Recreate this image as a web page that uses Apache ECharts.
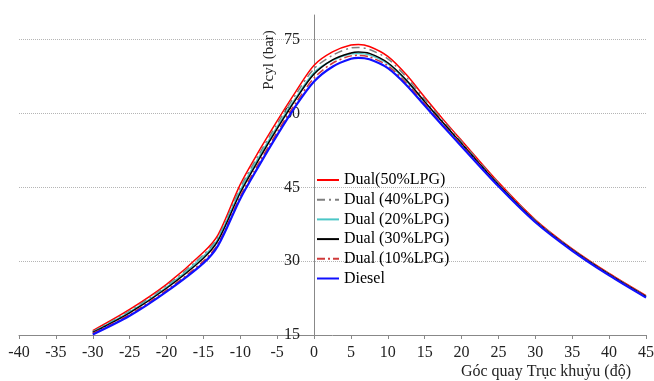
<!DOCTYPE html>
<html>
<head>
<meta charset="utf-8">
<script src="https://cdn.jsdelivr.net/npm/echarts@6/dist/echarts.min.js"></script>
<style>
  html, body { margin: 0; padding: 0; background: #fff; }
  #chart { width: 654px; height: 381px; }
</style>
</head>
<body>
<div id="chart"></div>
<script>
// crank angle (deg)
const angles = [-30, -25, -20, -15, -13, -10, -7.5, -5, -2.5, 0, 2.5, 5, 6, 7.5, 10, 12.5, 15, 17.5, 20, 25, 30, 35, 40, 45];

// cylinder pressure (bar)
const dual50 = [15.9, 20.2, 25.3, 31.8, 35.4, 45.6, 52.3, 58.5, 64.4, 69.8, 72.5, 73.9, 74.0, 73.6, 71.6, 67.9, 63.3, 58.8, 54.5, 46.0, 38.4, 32.5, 27.5, 23.0];
const dual40 = [15.7, 19.9, 25.0, 31.3, 34.9, 44.9, 51.6, 57.9, 63.8, 69.1, 71.8, 73.3, 73.4, 73.0, 71.1, 67.4, 62.9, 58.5, 54.3, 45.8, 38.3, 32.4, 27.4, 22.9];
const dual20 = [15.6, 19.7, 24.7, 31.0, 34.6, 44.4, 51.1, 57.3, 63.1, 68.3, 70.8, 72.1, 72.2, 71.9, 70.1, 66.6, 62.3, 58.0, 53.8, 45.5, 38.1, 32.3, 27.3, 22.8];
const dual30 = [15.5, 19.5, 24.5, 30.6, 34.2, 43.9, 50.6, 56.9, 62.8, 68.0, 70.9, 72.3, 72.5, 72.2, 70.3, 66.8, 62.4, 58.1, 53.9, 45.5, 38.1, 32.3, 27.3, 22.8];
const dual10 = [15.3, 19.2, 24.1, 30.0, 33.6, 43.2, 49.9, 56.2, 62.1, 67.2, 70.2, 71.7, 71.8, 71.5, 69.7, 66.2, 62.0, 57.7, 53.6, 45.3, 38.0, 32.2, 27.2, 22.7];
const diesel = [15.1, 18.9, 23.8, 29.6, 33.2, 42.7, 49.3, 55.6, 61.5, 66.5, 69.5, 71.1, 71.3, 71.0, 69.2, 65.8, 61.6, 57.4, 53.3, 45.2, 37.9, 32.1, 27.1, 22.6];

const seriesNames = ["Dual(50%LPG)", "Dual (40%LPG)", "Dual (20%LPG)", "Dual (30%LPG)", "Dual (10%LPG)", "Diesel"];

const chart = echarts.init(document.getElementById("chart"));
const serif = '"Liberation Serif", "Times New Roman", serif';

const pairs = (vals) => angles.map((a, i) => [a, vals[i]]);

const makeLine = (name, vals, color, width, type) => ({
  name: name,
  type: "line",
  data: pairs(vals),
  smooth: 0.3,
  symbol: "none",
  lineStyle: { color: color, width: width, type: type || "solid" },
  itemStyle: { color: color },
});

chart.setOption({
  animation: false,
  grid: { left: 19, right: 8, top: 15, bottom: 46, containLabel: false, outerBoundsMode: "none" },
  legend: {
    orient: "vertical",
    left: 311,
    top: 167,
    itemWidth: 22,
    itemHeight: 14,
    itemGap: 3.7,
    itemStyle: { opacity: 0 },
    textStyle: { fontFamily: serif, fontSize: 16, color: "#000" },
    data: seriesNames,
  },
  title: {
    text: "Góc quay Trục khuỷu (độ)",
    right: 23,
    top: 364,
    padding: 0,
    textStyle: { fontFamily: serif, fontSize: 16, fontWeight: "normal", color: "#222" },
  },
  graphic: [
    {
      type: "text",
      x: 269,
      y: 60,
      rotation: Math.PI / 2,
      style: {
        text: "Pcyl (bar)",
        font: "15px " + serif,
        fill: "#222",
        textAlign: "center",
        textVerticalAlign: "middle",
      },
    },
  ],
  xAxis: {
    type: "value",
    min: -40,
    max: 45,
    interval: 5,
    axisLine: { onZero: false, lineStyle: { color: "#888" } },
    axisTick: { show: true, length: 4, lineStyle: { color: "#888" } },
    axisLabel: { fontFamily: serif, fontSize: 16, color: "#222", margin: 10 },
    splitLine: { show: false },
  },
  yAxis: {
    type: "value",
    min: 15,
    max: 80,
    interval: 15,
    // sits on x = 0 (grid is 627px wide over 85 deg)
    offset: -295,
    axisLine: { show: true, onZero: false, lineStyle: { color: "#888" } },
    axisTick: { show: false },
    axisLabel: { fontFamily: serif, fontSize: 16, color: "#222", margin: 14, showMaxLabel: false },
    splitLine: {
      show: true,
      showMaxLine: false,
      lineStyle: { color: "#b5b5b5", type: "dotted", width: 1 },
    },
  },
  series: [
    makeLine(seriesNames[0], dual50, "#ff0000", 1.5),
    makeLine(seriesNames[1], dual40, "#7f7f7f", 1.5, [8, 4, 2, 4]),
    makeLine(seriesNames[2], dual20, "#4bc6c6", 1.5),
    makeLine(seriesNames[3], dual30, "#000000", 1.5),
    makeLine(seriesNames[4], dual10, "#d03a3a", 1.5, [8, 3, 2, 3]),
    makeLine(seriesNames[5], diesel, "#1010ff", 2.2),
  ],
});

window.addEventListener("resize", () => chart.resize());
</script>
</body>
</html>
